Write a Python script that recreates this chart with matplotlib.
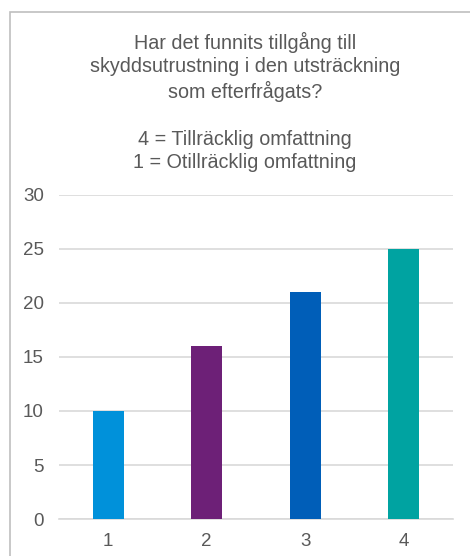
import matplotlib.pyplot as plt
from matplotlib.patches import Rectangle

categories = ['1', '2', '3', '4']
values = [10, 16, 21, 25]
colors = ['#0091DA', '#6D2077', '#005EB8', '#00A3A1']
yticks = [0, 5, 10, 15, 20, 25, 30]
title = ('Har det funnits tillgång till\n'
         'skyddsutrustning i den utsträckning\n'
         'som efterfrågats?\n'
         '\n'
         '4 = Tillräcklig omfattning\n'
         '1 = Otillräcklig omfattning')

plt.rcParams['font.family'] = ['Liberation Sans', 'DejaVu Sans']
text_color = '#595959'
grid_color = '#D9D9D9'

fig = plt.figure(figsize=(4.7, 5.56), dpi=100)
fig.patch.set_facecolor('white')

# chart frame (cut off at right and bottom in the original)
fig.patches.append(Rectangle((10 / 470, -0.1), 1.2, 1 - 12 / 556 + 0.1,
                             transform=fig.transFigure, fill=False,
                             edgecolor='#BFBFBF', linewidth=1.2))

fig.text(245 / 470, 1 - 32 / 556, title, ha='center', va='top',
         fontsize=14.2, color=text_color, linespacing=1.28)

ax = fig.add_axes([59 / 470, 1 - 519 / 556, 394 / 470, 324 / 556])
x = range(len(categories))
ax.bar(x, values, width=0.31, color=colors, zorder=3)
ax.set_xlim(-0.5, 3.5)
ax.set_ylim(0, 30)
ax.set_yticks(yticks)
ax.set_xticks(list(x))
ax.set_xticklabels(categories)
ax.yaxis.grid(True, color=grid_color, linewidth=1.2, zorder=0)
ax.set_axisbelow(True)
for side in ['top', 'right', 'left']:
    ax.spines[side].set_visible(False)
ax.spines['bottom'].set_color(grid_color)
ax.spines['bottom'].set_linewidth(1.2)
ax.tick_params(axis='both', length=0, colors=text_color, labelsize=13.5)
ax.tick_params(axis='y', pad=11)
ax.tick_params(axis='x', pad=10)

fig.savefig('out.png', dpi=100)
